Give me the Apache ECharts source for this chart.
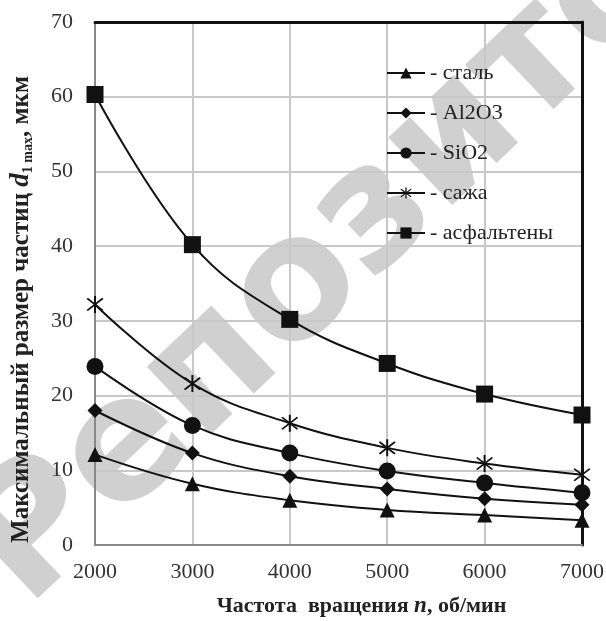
<!DOCTYPE html>
<html>
<head>
<meta charset="utf-8">
<script src="https://cdn.jsdelivr.net/npm/echarts@6/dist/echarts.min.js"></script>
<style>
    html, body { margin: 0; padding: 0; background: #fff; }
    #chart { width: 606px; height: 621px; }
</style>
</head>
<body>
<div id="chart"></div>
<script>
// частота вращения, об/мин
var speeds = [2000, 3000, 4000, 5000, 6000, 7000];
var yTicks = [0, 10, 20, 30, 40, 50, 60, 70];

// максимальный размер частиц, мкм
var steel = [12.1, 8.2, 6.0, 4.7, 4.0, 3.3];       // сталь
var al2o3 = [18.0, 12.3, 9.2, 7.5, 6.2, 5.4];      // Al2O3
var sio2 = [23.9, 16.0, 12.3, 9.9, 8.3, 7.0];      // SiO2
var soot = [32.2, 21.6, 16.3, 13.0, 10.9, 9.4];    // сажа
var asph = [60.3, 40.2, 30.2, 24.3, 20.2, 17.4];   // асфальтены

var names = ['сталь', 'Al2O3', 'SiO2', 'сажа', 'асфальтены'];

var serif = '"Liberation Serif", "DejaVu Serif", serif';

// звёздочка: три пересекающиеся полоски
function asterisk() {
    var L = 10, w = 0.9, d = '';
    [90, 45, -45].forEach(function (deg) {
        var a = deg * Math.PI / 180;
        var dx = Math.cos(a), dy = Math.sin(a), nx = -dy, ny = dx;
        var p = [
            [-L * dx - w * nx, -L * dy - w * ny],
            [L * dx - w * nx, L * dy - w * ny],
            [L * dx + w * nx, L * dy + w * ny],
            [-L * dx + w * nx, -L * dy + w * ny]
        ];
        d += 'M' + p.map(function (q) { return q[0].toFixed(2) + ',' + q[1].toFixed(2); }).join('L') + 'Z';
    });
    return 'path://' + d;
}

function pairs(arr) {
    return speeds.map(function (x, i) { return [x, arr[i]]; });
}

function line(name, arr, symbol, size) {
    return {
        name: name,
        type: 'line',
        data: pairs(arr),
        smooth: 0.4,
        symbol: symbol,
        symbolSize: size,
        z: 5,
        lineStyle: {color: '#111', width: 2},
        itemStyle: {color: '#111'}
    };
}

var chart = echarts.init(document.getElementById('chart'));
var option = {
    backgroundColor: '#fff',
    animation: false,
    // водяной знак
    graphic: {
        elements: [{
            type: 'text',
            z: -10,
            x: -4,
            y: 577,
            rotation: 43.5 * Math.PI / 180,
            style: {
                text: 'Репозиторий',
                fill: '#d0d0d0',
                font: 'bold 170px "DejaVu Sans", sans-serif',
                textAlign: 'left',
                textVerticalAlign: 'middle'
            }
        }]
    },
    grid: {left: 95, right: 24, top: 22, bottom: 76, outerBoundsMode: 'none', containLabel: false},
    legend: {
        orient: 'vertical',
        left: 386,
        top: 62,
        padding: 0,
        itemWidth: 38,
        itemHeight: 14,
        itemGap: 18,
        data: names,
        formatter: '- {name}',
        textStyle: {fontFamily: serif, fontSize: 22, lineHeight: 22, color: '#222'}
    },
    xAxis: [{
        type: 'value',
        min: 2000,
        max: 7000,
        interval: 1000,
        name: '{b|Частота  вращения }{i|n}{b|, об/мин}',
        nameLocation: 'middle',
        nameGap: 50,
        nameTextStyle: {
            padding: [0, 0, 0, 46],
            rich: {
                b: {fontFamily: serif, fontSize: 22, fontWeight: 'bold', color: '#222'},
                i: {fontFamily: serif, fontSize: 23, fontStyle: 'italic', fontWeight: 'bold', color: '#222'}
            }
        },
        axisLine: {lineStyle: {color: '#888', width: 2}},
        axisTick: {show: false},
        axisLabel: {
            margin: 16,
            fontFamily: serif,
            fontSize: 22,
            color: '#333',
            formatter: function (v) { return String(v); }
        },
        splitLine: {lineStyle: {color: '#c8c8c8', width: 2}}
    }, {
        type: 'value',
        position: 'top',
        min: 2000,
        max: 7000,
        interval: 1000,
        axisLine: {show: true, onZero: false, lineStyle: {color: '#111', width: 3}},
        axisTick: {show: false},
        axisLabel: {show: false},
        splitLine: {show: false}
    }],
    yAxis: [{
        type: 'value',
        min: 0,
        max: 70,
        interval: 10,
        name: '{b|Максимальный размер частиц }{i|d}{s|1 max}{b|, мкм}',
        nameLocation: 'middle',
        nameGap: 60,
        nameTextStyle: {
            padding: [0, 52, 0, 0],
            rich: {
                b: {fontFamily: serif, fontSize: 25, fontWeight: 'bold', color: '#222', lineHeight: 27},
                i: {fontFamily: serif, fontSize: 27, fontStyle: 'italic', fontWeight: 'bold', color: '#222', lineHeight: 27},
                s: {fontFamily: serif, fontSize: 14, fontWeight: 'bold', color: '#222', lineHeight: 15, verticalAlign: 'bottom'}
            }
        },
        axisLine: {show: true, onZero: false, lineStyle: {color: '#888', width: 2}},
        axisTick: {show: false},
        axisLabel: {
            margin: 22,
            fontFamily: serif,
            fontSize: 22,
            color: '#333',
            formatter: function (v) { return yTicks.indexOf(v) >= 0 ? String(v) : ''; }
        },
        splitLine: {lineStyle: {color: '#c8c8c8', width: 2}}
    }, {
        type: 'value',
        position: 'right',
        min: 0,
        max: 70,
        interval: 10,
        axisLine: {show: true, onZero: false, lineStyle: {color: '#111', width: 3}},
        axisTick: {show: false},
        axisLabel: {show: false},
        splitLine: {show: false}
    }],
    series: [
        line(names[0], steel, 'triangle', 15),
        line(names[1], al2o3, 'diamond', 15),
        line(names[2], sio2, 'circle', 17),
        line(names[3], soot, asterisk(), 17),
        line(names[4], asph, 'rect', 17)
    ]
};
chart.setOption(option);
</script>
</body>
</html>
